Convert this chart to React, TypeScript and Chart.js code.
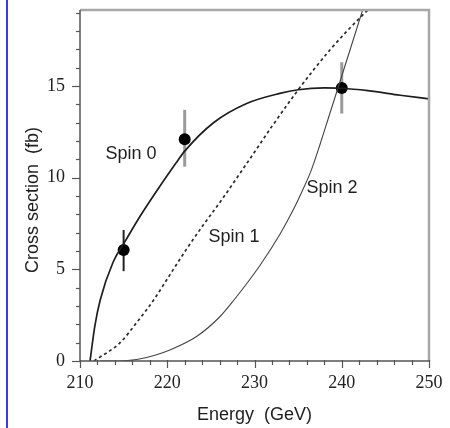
import React, { useEffect, useRef } from "react";
import { Chart, registerables } from "chart.js";

Chart.register(...registerables);

// ---- data ----
const spin0X = [211.15, 211.7, 212.3, 213.8, 215.2, 216.5, 218.4, 221, 222, 225.3, 229.1, 232.9, 235, 238, 240, 243, 246.7, 250];
const spin0Y = [0, 1.9, 3.3, 5.4, 6.55, 7.6, 9.0, 10.8, 11.45, 13.0, 14.05, 14.6, 14.8, 14.9, 14.88, 14.75, 14.5, 14.3];

const spin1X = [211.6, 214.6, 216.5, 218.4, 220.3, 222.2, 224.1, 226.1, 229, 232, 234.7, 236.8, 238.7, 240.6, 243.1, 244];
const spin1Y = [0, 1.0, 2.1, 3.3, 4.7, 6.1, 7.4, 8.7, 10.7, 12.8, 14.6, 15.9, 17.0, 18.0, 19.2, 19.6];

const spin2X = [212.3, 214.5, 216.5, 218.5, 220.3, 223.4, 226, 227.6, 230.6, 232.9, 234.5, 235.5, 236.5, 237.5, 238.5, 239.5, 240.5, 241.5, 242.5, 243];
const spin2Y = [0, 0.0, 0.08, 0.3, 0.6, 1.35, 2.4, 3.3, 5.2, 6.9, 8.3, 9.3, 10.4, 11.8, 13.3, 14.8, 16.3, 17.8, 19.3, 20];

const measX = [215, 222, 240];
const measY = [6.05, 12.1, 14.9];
const measLow = [4.9, 10.6, 13.5];
const measHigh = [7.15, 13.7, 16.3];

const xTickValues = [210, 220, 230, 240, 250];
const xMinorValues = [212, 214, 216, 218, 222, 224, 226, 228, 232, 234, 236, 238, 242, 244, 246, 248];
const yTickValues = [0, 5, 10, 15];
const yMinorValues = [1, 2, 3, 4, 6, 7, 8, 9, 11, 12, 13, 14, 16, 17, 18, 19];

const curveLabels = ["Spin 0", "Spin 1", "Spin 2"];
const curveLabelX = [215.85, 227.65, 238.88];
const curveLabelY = [11.29, 6.76, 9.44];

const xTitle = "Energy  (GeV)";
const yTitle = "Cross section  (fb)";

const X_MIN = 210;
const X_MAX = 250;
const Y_MIN = 0;
const Y_MAX = 19.15;

const toPts = (xs: number[], ys: number[]) => xs.map((x, i) => ({ x, y: ys[i] }));

const zeroPad = (s: any) => {
  s.paddingTop = 0;
  s.paddingBottom = 0;
  s.paddingLeft = 0;
  s.paddingRight = 0;
};

const decorPlugin = {
  id: "decor",
  beforeDraw(chart: any) {
    const ctx = chart.ctx;
    ctx.save();
    ctx.fillStyle = "#ffffff";
    ctx.fillRect(0, 0, chart.width, chart.height);
    ctx.fillStyle = "#3a3ad8";
    ctx.fillRect(6, 0, 2, chart.height);
    ctx.restore();
  },
  beforeDatasetsDraw(chart: any) {
    const ctx = chart.ctx;
    const xs = chart.scales.x;
    const ys = chart.scales.y;
    ctx.save();
    measX.forEach((x, i) => {
      const px = xs.getPixelForValue(x);
      ctx.strokeStyle = i === 0 ? "#222222" : "#9a9a9a";
      ctx.lineWidth = i === 0 ? 2 : 3;
      ctx.beginPath();
      ctx.moveTo(px, ys.getPixelForValue(measLow[i]));
      ctx.lineTo(px, ys.getPixelForValue(measHigh[i]));
      ctx.stroke();
    });
    ctx.restore();
  },
  afterDatasetsDraw(chart: any) {
    const ctx = chart.ctx;
    const xs = chart.scales.x;
    const ys = chart.scales.y;
    const a = chart.chartArea;
    ctx.save();
    ctx.strokeStyle = "#a8a8a8";
    ctx.lineWidth = 2.5;
    ctx.beginPath();
    ctx.moveTo(a.left, a.top);
    ctx.lineTo(a.right, a.top);
    ctx.lineTo(a.right, a.bottom);
    ctx.stroke();
    ctx.strokeStyle = "#555555";
    ctx.lineWidth = 1.5;
    ctx.beginPath();
    ctx.moveTo(a.left, a.top);
    ctx.lineTo(a.left, a.bottom);
    ctx.lineTo(a.right, a.bottom);
    ctx.stroke();
    ctx.lineWidth = 1.2;
    ctx.strokeStyle = "#555555";
    const yTick = (v: number, len: number) => {
      const py = Math.round(ys.getPixelForValue(v)) + 0.5;
      ctx.beginPath();
      ctx.moveTo(a.left - len, py);
      ctx.lineTo(a.left, py);
      ctx.stroke();
    };
    const xTick = (v: number, len: number) => {
      const px = Math.round(xs.getPixelForValue(v)) + 0.5;
      ctx.beginPath();
      ctx.moveTo(px, a.bottom - 1);
      ctx.lineTo(px, a.bottom + len);
      ctx.stroke();
    };
    yTickValues.forEach((v) => yTick(v, 8));
    yMinorValues.forEach((v) => yTick(v, 4));
    xTickValues.forEach((v) => xTick(v, 7));
    xMinorValues.forEach((v) => xTick(v, 4));

    ctx.fillStyle = "#1e1e1e";
    ctx.font = "18px 'Liberation Sans', Arial, sans-serif";
    ctx.textAlign = "center";
    ctx.textBaseline = "middle";
    curveLabels.forEach((t, i) => {
      ctx.fillText(t, xs.getPixelForValue(curveLabelX[i]), ys.getPixelForValue(curveLabelY[i]));
    });
    ctx.fillText(xTitle, (a.left + a.right) / 2, 415);
    ctx.translate(33, 200);
    ctx.rotate(-Math.PI / 2);
    ctx.fillText(yTitle, 0, 0);
    ctx.restore();
  },
};

export default function App() {
  const ref = useRef<HTMLCanvasElement | null>(null);

  useEffect(() => {
    if (!ref.current) return;
    const chart = new Chart(ref.current, {
      type: "line",
      data: {
        datasets: [
          {
            label: "Spin 0",
            data: toPts(spin0X, spin0Y),
            borderColor: "#1e1e1e",
            borderWidth: 1.7,
            pointRadius: 0,
            cubicInterpolationMode: "monotone",
            fill: false,
          },
          {
            label: "Spin 1",
            data: toPts(spin1X, spin1Y),
            borderColor: "#2a2a2a",
            borderWidth: 1.7,
            borderDash: [3, 3],
            pointRadius: 0,
            cubicInterpolationMode: "monotone",
            fill: false,
          },
          {
            label: "Spin 2",
            data: toPts(spin2X, spin2Y),
            borderColor: "#444444",
            borderWidth: 1.1,
            pointRadius: 0,
            cubicInterpolationMode: "monotone",
            fill: false,
          },
          {
            label: "Data",
            data: toPts(measX, measY),
            showLine: false,
            pointRadius: 6,
            pointBackgroundColor: "#000000",
            pointBorderColor: "#000000",
            pointBorderWidth: 0,
          },
        ],
      },
      options: {
        responsive: false,
        animation: false,
        devicePixelRatio: 1,
        layout: { autoPadding: false, padding: { top: 10, right: 21, left: 0, bottom: 0 } },
        plugins: {
          legend: { display: false },
          tooltip: { enabled: false },
          title: { display: false },
        },
        scales: {
          x: {
            type: "linear",
            min: X_MIN,
            max: X_MAX,
            grid: { display: false, drawTicks: false },
            border: { display: false },
            afterBuildTicks: (s: any) => {
              s.ticks = xTickValues.map((v) => ({ value: v }));
            },
            afterFit: (s: any) => {
              s.height = 67;
              zeroPad(s);
            },
            ticks: {
              padding: 13,
              color: "#222222",
              maxRotation: 0,
              font: { family: "'Liberation Serif', 'Times New Roman', serif", size: 18, lineHeight: 1 },
            },
          },
          y: {
            type: "linear",
            min: Y_MIN,
            max: Y_MAX,
            grid: { display: false, drawTicks: false },
            border: { display: false },
            afterBuildTicks: (s: any) => {
              s.ticks = yTickValues.map((v) => ({ value: v }));
            },
            afterFit: (s: any) => {
              s.width = 80;
              zeroPad(s);
            },
            ticks: {
              padding: 15,
              color: "#222222",
              font: { family: "'Liberation Serif', 'Times New Roman', serif", size: 18, lineHeight: 1 },
            },
          },
        },
      },
      plugins: [decorPlugin],
    } as any);
    return () => chart.destroy();
  }, []);

  return (
    <div style={{ position: "fixed", left: 0, top: 0, width: 450, height: 428, background: "#fff" }}>
      <canvas ref={ref} width={450} height={428} style={{ width: 450, height: 428, display: "block" }} />
    </div>
  );
}
